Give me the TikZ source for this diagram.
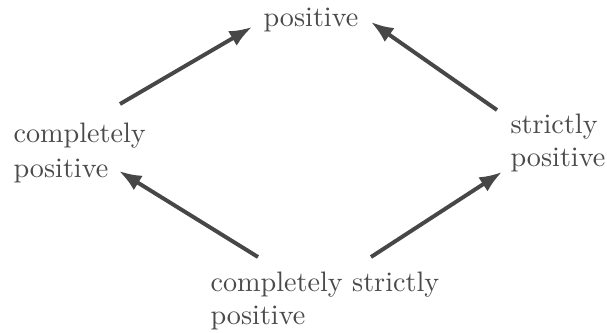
\documentclass[tikz,border=0pt]{standalone}
\usepackage{xcolor}
\usepackage{tikz}
\usetikzlibrary{arrows.meta}
\definecolor{textgray}{HTML}{4A4A4A}
\definecolor{arrowgray}{HTML}{474747}

\begin{document}
\begin{tikzpicture}[x=0.355pt, y=-0.355pt,
  label/.style={text=textgray, inner sep=0pt, anchor=base west, align=left, text width=#1},
  label/.default=60pt,
  implies/.style={draw=arrowgray, line width=1.4pt, -{Latex[length=8pt, width=6pt]}}]
\useasboundingbox (0,0) rectangle (607,332);
% the four notions of positivity
\node[label=40pt] (pos) at (263,26) {positive};
\node[label] (cp) at (13,142) {completely\\[0.5pt]positive};
\node[label] (sp) at (510,133) {strictly\\positive};
\node[label=90pt] (csp) at (210,291) {completely strictly\\positive};
% implications
\draw[implies] ([shift={(48,-34)}]csp.base west) -- ([shift={(106,29)}]cp.base west);
\draw[implies] ([shift={(161,-34)}]csp.base west) -- ([shift={(-8,39)}]sp.base west);
\draw[implies] ([shift={(107,-38)}]cp.base west) -- ([shift={(-11,1)}]pos.base west);
\draw[implies] ([shift={(-13,-23)}]sp.base west) -- ([shift={(108,-4)}]pos.base west);
\end{tikzpicture}
\end{document}
